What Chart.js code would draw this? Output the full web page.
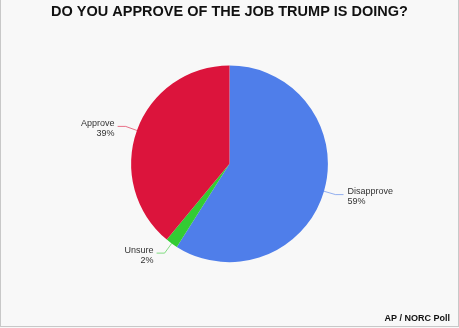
<!DOCTYPE html>
<html>
<head>
<meta charset="utf-8">
<script src="https://cdn.jsdelivr.net/npm/chart.js@4/dist/chart.umd.min.js"></script>
<style>
  html, body { margin: 0; padding: 0; background: #ffffff; }
  #wrap { position: relative; width: 459px; height: 328px; background: #f8f8f8; }
  #frame { position: absolute; left: 0; top: 0; width: 457px; height: 326px;
           border-left: 1px solid #c8c8c8; border-right: 1px solid #c8c8c8; border-bottom: 1px solid #c8c8c8;
           pointer-events: none; }
  canvas { position: absolute; left: 0; top: 0; }
</style>
</head>
<body>
<div id="wrap">
  <canvas id="c" width="459" height="328"></canvas>
  <div id="frame"></div>
</div>
<script>
const titleText = "DO YOU APPROVE OF THE JOB TRUMP IS DOING?";
const sourceText = "AP / NORC Poll";
const categories = ["Disapprove", "Unsure", "Approve"];
const values = [59, 2, 39];
const sliceColors = ["#4f7eea", "#33cc33", "#dc143c"];
const lineColors = ["rgba(79,126,234,0.6)", "rgba(51,204,51,0.6)", "rgba(220,20,60,0.6)"];

const FONT = "'Liberation Sans', Arial, Helvetica, sans-serif";

const sliceLabels = {
  id: 'sliceLabels',
  afterDatasetsDraw(chart) {
    const ctx = chart.ctx;
    const meta = chart.getDatasetMeta(0);
    ctx.save();
    meta.data.forEach((arc, i) => {
      const p = arc.getProps(['x', 'y', 'startAngle', 'endAngle', 'outerRadius'], true);
      const mid = (p.startAngle + p.endAngle) / 2;
      const c = Math.cos(mid), s = Math.sin(mid);
      const x0 = p.x + c * p.outerRadius, y0 = p.y + s * p.outerRadius;
      const x1 = p.x + c * (p.outerRadius + 12), y1 = p.y + s * (p.outerRadius + 12);
      const right = c >= 0;
      const x2 = x1 + (right ? 8 : -8), y2 = y1;
      ctx.strokeStyle = lineColors[i];
      ctx.lineWidth = 1;
      ctx.beginPath();
      ctx.moveTo(x0, y0);
      ctx.lineTo(x1, y1);
      ctx.lineTo(x2, y2);
      ctx.stroke();
      ctx.fillStyle = '#333333';
      ctx.font = '9px ' + FONT;
      ctx.textBaseline = 'middle';
      ctx.textAlign = right ? 'left' : 'right';
      const tx = x2 + (right ? 4 : -3);
      ctx.fillText(categories[i], tx, y2 - 3);
      ctx.fillText(values[i] + '%', tx, y2 + 7);
    });
    ctx.restore();
  }
};

new Chart(document.getElementById('c'), {
  type: 'pie',
  data: {
    labels: categories,
    datasets: [{
      data: values,
      backgroundColor: sliceColors,
      borderWidth: 0,
      hoverOffset: 0
    }]
  },
  options: {
    responsive: false,
    animation: false,
    devicePixelRatio: 1,
    layout: { padding: { left: 9, right: 9, top: 0, bottom: 0 } },
    plugins: {
      legend: { display: false },
      tooltip: { enabled: false },
      title: {
        display: true,
        text: titleText,
        color: '#111111',
        font: { family: FONT, size: 14.5, weight: 'bold', lineHeight: 1.2 },
        padding: { top: 3, bottom: 45 }
      },
      subtitle: {
        display: true,
        position: 'bottom',
        align: 'end',
        text: sourceText,
        color: '#111111',
        font: { family: FONT, size: 9, weight: 'bold', lineHeight: 1.2 },
        padding: { top: 51, bottom: 4 }
      }
    }
  },
  plugins: [sliceLabels]
});
</script>
</body>
</html>
